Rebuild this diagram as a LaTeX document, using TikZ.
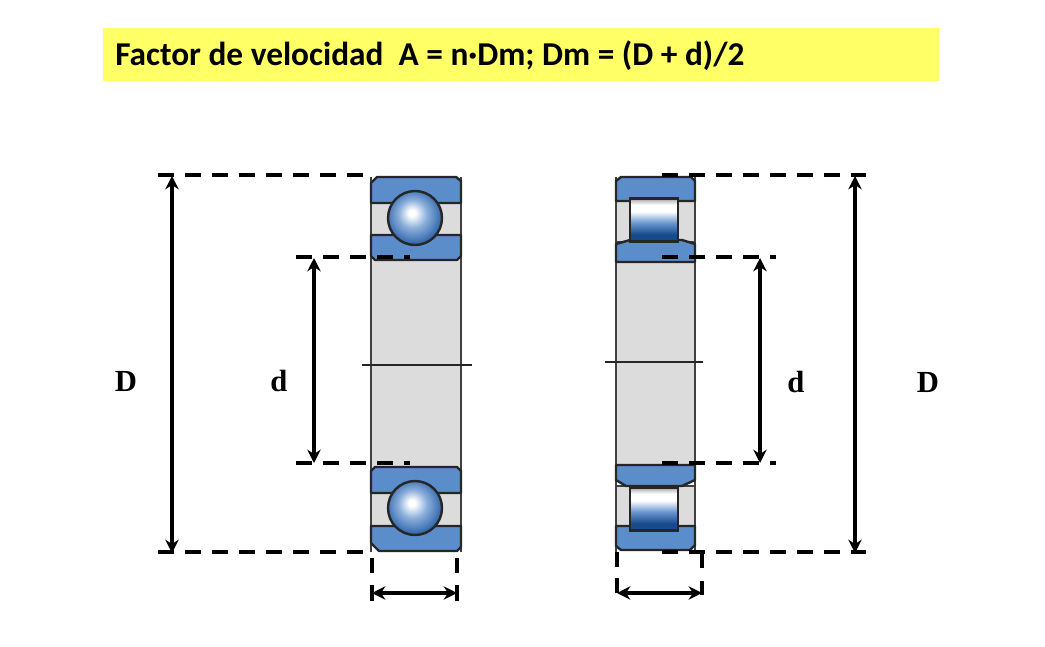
\documentclass[tikz,border=0pt]{standalone}
\usepackage{fontspec}
\usetikzlibrary{arrows.meta}
\setmainfont{Liberation Serif}
\newfontfamily\titlefont{Carlito}
\definecolor{ringblue}{HTML}{5B8DCB}
\definecolor{shaftgrey}{HTML}{DCDCDC}
\definecolor{titleyellow}{HTML}{FFFF66}
\definecolor{rollerblue}{HTML}{174A8C}
\pgfdeclareradialshading{ballshade}{\pgfpoint{-3bp}{5bp}}{
  color(0bp)=(white); color(3bp)=(white); color(13bp)=(ringblue!70!white); color(23bp)=(ringblue!70!rollerblue); color(31bp)=(rollerblue); color(50bp)=(rollerblue)}
\pgfdeclareverticalshading{rollershade}{100bp}{
  color(0bp)=(rollerblue); color(25bp)=(rollerblue); color(33bp)=(rollerblue); color(47bp)=(ringblue!90!white); color(60bp)=(white); color(68bp)=(white); color(75bp)=(black!35); color(100bp)=(black!35)}

\begin{document}
\begin{tikzpicture}[x=0.75pt,y=-0.75pt,
ringshape/.style={draw=black!85, fill=ringblue, line width=1.8pt, line join=round},
cageshape/.style={draw=black!75, fill=shaftgrey, line width=1.4pt},
ballnode/.style={circle, draw=black!85, line width=1.8pt, shading=ballshade, minimum size=40.5pt, inner sep=0pt},
rollernode/.style={rectangle, draw=black!85, line width=1.8pt, shading=rollershade, minimum width=36pt, minimum height=32pt, inner sep=0pt},
dimline/.style={dash pattern=on 12pt off 8.25pt, line width=3pt},
extline/.style={line width=3pt},
measure/.style={{Stealth[length=10pt,width=10pt]}-{Stealth[length=10pt,width=10pt]}, line width=3pt},
dimlabel/.style={font=\bfseries\fontsize{23}{23}\selectfont},
axisline/.style={line width=1.2pt, black!85}
]
    \useasboundingbox (0,0) rectangle (1045,646);

    % title
    \fill [titleyellow] (103,28) rectangle (939,81);
    \node [anchor=west, inner sep=0pt, font=\titlefont\bfseries\fontsize{25}{25}\selectfont] (title) at (115,56) {Factor de velocidad\ \ A = n·Dm; Dm = (D + d)/2};

    % left bearing
    \fill [shaftgrey] (371,255) rectangle (461,470);
    \draw [black!75, line width=1.4pt] (371,177) -- (371,552);
    \draw [black!75, line width=1.4pt] (461,177) -- (461,552);
    \draw [cageshape] (371,202) rectangle (461,235);
    \draw [cageshape] (371,493) rectangle (461,526);
    \draw [ringshape] (377,177) -- (456,177) -- (461,181) -- (461,203) -- (371,203) -- (371,183) -- cycle;
    \draw [ringshape] (371,235) -- (461,235) -- (461,256) -- (457,260) -- (375,260) -- (371,256) -- cycle;
    \draw [ringshape] (375,467) -- (457,467) -- (461,471) -- (461,493) -- (371,493) -- (371,471) -- cycle;
    \draw [ringshape] (371,526) -- (461,526) -- (461,547) -- (457,551) -- (379,551) -- (371,543) -- cycle;
    \node [ballnode] (ball1) at (415,218) {};
    \node [ballnode] (ball2) at (415,508) {};

    % right bearing
    \fill [shaftgrey] (616,260) rectangle (695,468);
    \draw [black!75, line width=1.4pt] (616,177) -- (616,552);
    \draw [black!75, line width=1.4pt] (695,177) -- (695,552);
    \draw [cageshape] (616,201) rectangle (695,242);
    \draw [cageshape] (616,486) rectangle (695,526);
    \draw [ringshape] (621,177) -- (691,177) -- (695,181) -- (695,201) -- (616,201) -- (616,181) -- cycle;
    \draw [ringshape] (630,240) -- (682,240) -- (695,244) -- (695,262) -- (616,262) -- (616,244) -- cycle;
    \draw [ringshape] (616,465) -- (695,465) -- (695,480) -- (682,486) -- (626,486) -- (616,480) -- cycle;
    \draw [ringshape] (616,526) -- (695,526) -- (695,545) -- (690,550) -- (621,550) -- (616,546) -- cycle;
    \node [rollernode] (roller1) at (654,220) {};
    \node [rollernode] (roller2) at (654,509) {};

    % center lines
    \coordinate (c1a) at (362,365);
    \coordinate (c1b) at (472,365);
    \coordinate (c2a) at (605,362);
    \coordinate (c2b) at (703,362);
    \draw [axisline] (c1a) -- (c1b);
    \draw [axisline] (c2a) -- (c2b);

    % dashed lines
    \coordinate (Da1) at (158,175);
    \coordinate (Da2) at (364,175);
    \coordinate (Db1) at (158,552);
    \coordinate (Db2) at (364,552);
    \coordinate (da1) at (296,257);
    \coordinate (da2) at (410,257);
    \coordinate (db1) at (296,463);
    \coordinate (db2) at (410,463);
    \coordinate (Dc1) at (662,175);
    \coordinate (Dc2) at (866,175);
    \coordinate (Dd1) at (662,552);
    \coordinate (Dd2) at (866,552);
    \coordinate (dc1) at (662,257);
    \coordinate (dc2) at (776,257);
    \coordinate (dd1) at (662,463);
    \coordinate (dd2) at (776,463);
    \foreach \a/\b in {Da1/Da2,Db1/Db2,da1/da2,db1/db2,Dc1/Dc2,Dd1/Dd2,dc1/dc2,dd1/dd2}
        \draw [dimline] (\a) -- (\b);

    % arrows
    \coordinate (D1t) at (172,176);
    \coordinate (D1b) at (172,553);
    \coordinate (d1t) at (314,258);
    \coordinate (d1b) at (314,463);
    \coordinate (D2t) at (855,176);
    \coordinate (D2b) at (855,553);
    \coordinate (d2t) at (760,258);
    \coordinate (d2b) at (760,463);
    \draw [measure] (D1t) -- (D1b);
    \draw [measure] (d1t) -- (d1b);
    \draw [measure] (D2t) -- (D2b);
    \draw [measure] (d2t) -- (d2b);

    % width marks
    \coordinate (w1a) at (372,593);
    \coordinate (w1b) at (457,593);
    \coordinate (w2a) at (617,593);
    \coordinate (w2b) at (702,593);
    \draw [measure] (w1a) -- (w1b);
    \draw [measure] (w2a) -- (w2b);
    \draw [extline] (372,558) -- (372,573);
    \draw [extline] (457,558) -- (457,573);
    \draw [extline] (372,585) -- (372,601);
    \draw [extline] (457,585) -- (457,601);
    \draw [extline] (617,552) -- (617,567);
    \draw [extline] (702,552) -- (702,568);
    \draw [extline] (617,578) -- (617,593);
    \draw [extline] (702,581) -- (702,595);

    % labels
    \node [dimlabel] (D1) at (126,381) {D};
    \node [dimlabel] (d1) at (279,381) {d};
    \node [dimlabel] (d2) at (796,382) {d};
    \node [dimlabel] (D2) at (928,382) {D};
\end{tikzpicture}
\end{document}
